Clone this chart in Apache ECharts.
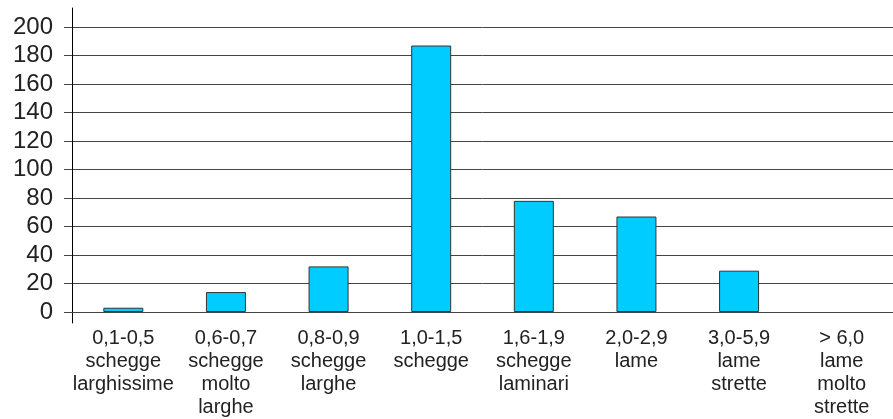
<!DOCTYPE html>
<html><head><meta charset="utf-8">
<script src="https://cdn.jsdelivr.net/npm/echarts@6/dist/echarts.min.js"></script>
<style>html,body{margin:0;padding:0;background:#fff}#c{width:893px;height:419px}</style>
</head><body><div id="c"></div>
<script>
const categories = [
  '0,1-0,5\nschegge\nlarghissime',
  '0,6-0,7\nschegge\nmolto\nlarghe',
  '0,8-0,9\nschegge\nlarghe',
  '1,0-1,5\nschegge',
  '1,6-1,9\nschegge\nlaminari',
  '2,0-2,9\nlame',
  '3,0-5,9\nlame\nstrette',
  '> 6,0\nlame\nmolto\nstrette'
];
const values = [3, 14, 32, 187, 78, 67, 29, null];
const yMin = 0, yMax = 200, yStep = 20;

const font = '"Liberation Sans", Arial, sans-serif';
const lineCol = '#444';
const chart = echarts.init(document.getElementById('c'), null, {renderer: 'canvas'});
chart.setOption({
  animation: false,
  backgroundColor: '#fff',
  grid: [
    {left: 72, top: 27, width: 828, bottom: 106, containLabel: false},
    {left: 72, top: 8, width: 10, height: 315, containLabel: false}
  ],
  xAxis: [
    {
      type: 'category', data: categories, gridIndex: 0, boundaryGap: true,
      axisLine: {show: true, lineStyle: {color: lineCol, width: 1}},
      axisTick: {show: false},
      axisLabel: {interval: 0, fontFamily: font, fontSize: 20, lineHeight: 23, color: '#222', margin: 15}
    },
    {type: 'value', gridIndex: 1, show: false, min: 0, max: 1}
  ],
  yAxis: [
    {
      type: 'value', gridIndex: 0, min: yMin, max: yMax, interval: yStep,
      axisLine: {show: false},
      axisTick: {show: true, length: 8, lineStyle: {color: lineCol, width: 1}},
      axisLabel: {fontFamily: font, fontSize: 24, color: '#222', margin: 19},
      splitLine: {show: true, lineStyle: {color: lineCol, width: 1}}
    },
    {
      type: 'value', gridIndex: 1, min: 0, max: 1,
      axisLine: {show: true, lineStyle: {color: '#000', width: 1}},
      axisTick: {show: false}, axisLabel: {show: false}, splitLine: {show: false}
    }
  ],
  series: [{
    type: 'bar', xAxisIndex: 0, yAxisIndex: 0, data: values, barWidth: 40,
    itemStyle: {color: '#00CCFF', borderColor: '#333', borderWidth: 1}
  }]
});
</script></body></html>
